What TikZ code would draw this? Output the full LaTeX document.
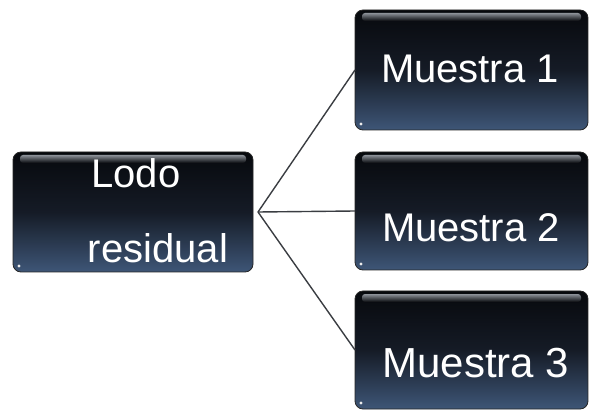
\documentclass[tikz,border=0pt]{standalone}
\usepackage{fontspec}
\setmainfont{Liberation Sans}
\definecolor{boxtop}{HTML}{07090D}
\definecolor{boxmid}{HTML}{151B26}
\definecolor{boxbot}{HTML}{3E5677}
\definecolor{linec}{HTML}{3A3D42}
\definecolor{glosstop}{HTML}{8C9198}
\begin{document}
\begin{tikzpicture}[x=1pt,y=1pt,
  darkbox/.style={draw=black!85, line width=0.8pt, rounded corners=8pt,
    top color=boxtop, bottom color=boxbot, middle color=boxmid,
    minimum height=118pt, inner sep=0pt, outer sep=0pt},
  boxtext/.style={text=white, font=\fontsize{40}{48}\selectfont, anchor=base, inner sep=0pt},
  conn/.style={draw=linec, line width=1.4pt}]
\useasboundingbox (0,0) rectangle (589,410);
% boxes
\node[darkbox, minimum width=240pt, minimum height=120pt] (lodo) at (133,198) {};
\node[darkbox, minimum width=233pt, minimum height=120pt] (m1) at (471.5,340) {};
\node[darkbox, minimum width=233pt] (m2) at (471.5,199) {};
\node[darkbox, minimum width=233pt] (m3) at (471.5,60) {};
% gloss and corner dots
\foreach \n in {lodo,m1,m2,m3}{
  \shade[top color=glosstop, bottom color=boxtop, rounded corners=3pt]
    ([xshift=7pt,yshift=-3pt]\n.north west) rectangle ([xshift=-7pt,yshift=-11pt]\n.north east);
  \fill[white!85!gray] ([xshift=6pt,yshift=6pt]\n.south west) circle (1.6pt);
}
% texts
\node[boxtext] (tlodo) at (136,222) {Lodo};
\node[boxtext] (tres) at (158,147) {residual};
\node[boxtext] (t1) at (470,327) {Muestra 1};
\node[boxtext] (t2) at (471,168) {Muestra 2};
\node[boxtext, font=\fontsize{42}{50}\selectfont] (t3) at (476,33) {Muestra 3};
% connectors
\coordinate (src) at ([xshift=5pt]lodo.east);
\draw[conn] (src) -- (m1.west);
\draw[conn] (src) -- (m2.west);
\draw[conn] (src) -- (m3.west);
\end{tikzpicture}
\end{document}
